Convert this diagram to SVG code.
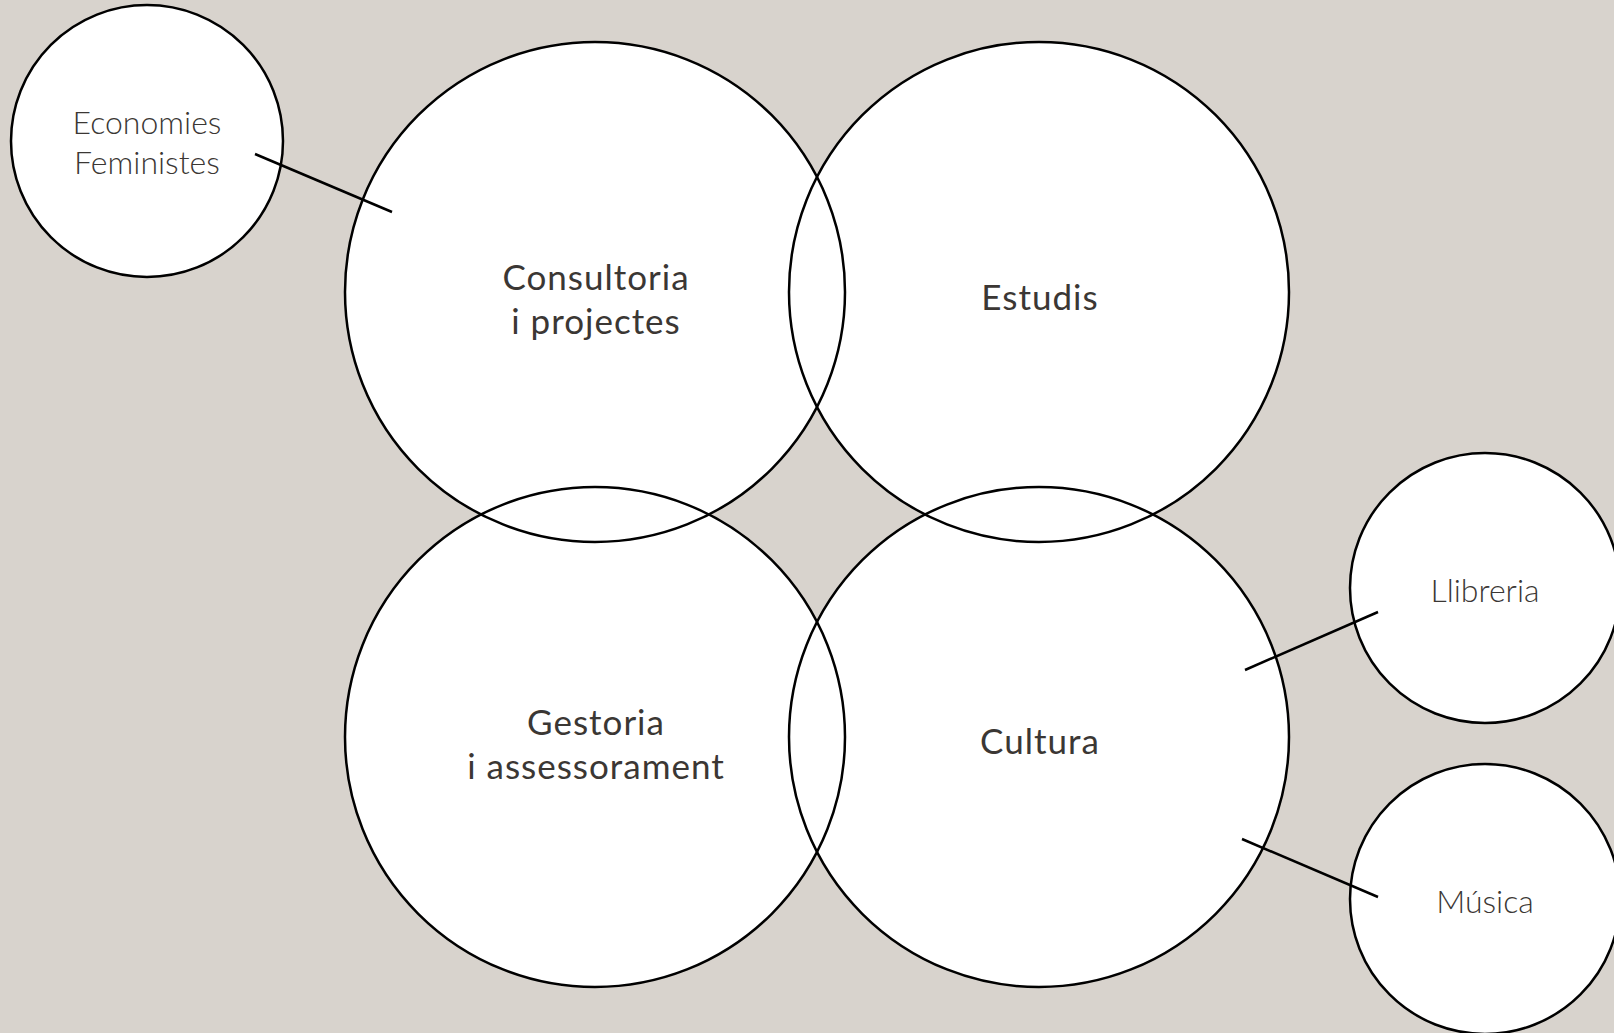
<svg xmlns="http://www.w3.org/2000/svg" width="1614" height="1033" viewBox="0 0 1614 1033">
<style>
.bg{fill:#d8d3cd}
.fillc{fill:#ffffff;stroke:none}
.ring{fill:none;stroke:#000;stroke-width:2.5}
.big{font-family:Lato,"Liberation Sans",sans-serif;font-size:35px;font-weight:400;fill:#3b3734;text-anchor:middle;letter-spacing:1px}
.small{font-family:Lato,"Liberation Sans",sans-serif;font-size:32px;font-weight:300;fill:#3b3734;text-anchor:middle}
.conn line{stroke:#000;stroke-width:2.5}
</style>
<rect class="bg" x="0" y="0" width="1614" height="1033"/>
<g id="fills">
<circle class="fillc" cx="147" cy="141" r="136"/>
<circle class="fillc" cx="595" cy="292" r="250"/>
<circle class="fillc" cx="1039" cy="292" r="250"/>
<circle class="fillc" cx="595" cy="737" r="250"/>
<circle class="fillc" cx="1039" cy="737" r="250"/>
<circle class="fillc" cx="1485" cy="588" r="135"/>
<circle class="fillc" cx="1485" cy="899" r="135"/>
</g>
<g id="connectors" class="conn">
<line x1="255" y1="154" x2="392" y2="212"/>
<line x1="1245" y1="670" x2="1378" y2="612"/>
<line x1="1242" y1="839" x2="1378" y2="897"/>
</g>
<g id="economies">
<circle class="ring" cx="147" cy="141" r="136"/>
<text class="small" x="147" y="134">Economies</text>
<text class="small" x="147" y="174">Feministes</text>
</g>
<g id="consultoria">
<circle class="ring" cx="595" cy="292" r="250"/>
<text class="big" x="596" y="290">Consultoria</text>
<text class="big" x="596" y="334">i projectes</text>
</g>
<g id="estudis">
<circle class="ring" cx="1039" cy="292" r="250"/>
<text class="big" x="1040" y="310">Estudis</text>
</g>
<g id="gestoria">
<circle class="ring" cx="595" cy="737" r="250"/>
<text class="big" x="596" y="735">Gestoria</text>
<text class="big" x="596" y="779">i assessorament</text>
</g>
<g id="cultura">
<circle class="ring" cx="1039" cy="737" r="250"/>
<text class="big" x="1040" y="754">Cultura</text>
</g>
<g id="llibreria">
<circle class="ring" cx="1485" cy="588" r="135"/>
<text class="small" x="1485" y="602">Llibreria</text>
</g>
<g id="musica">
<circle class="ring" cx="1485" cy="899" r="135"/>
<text class="small" x="1485" y="913">Música</text>
</g>
</svg>
